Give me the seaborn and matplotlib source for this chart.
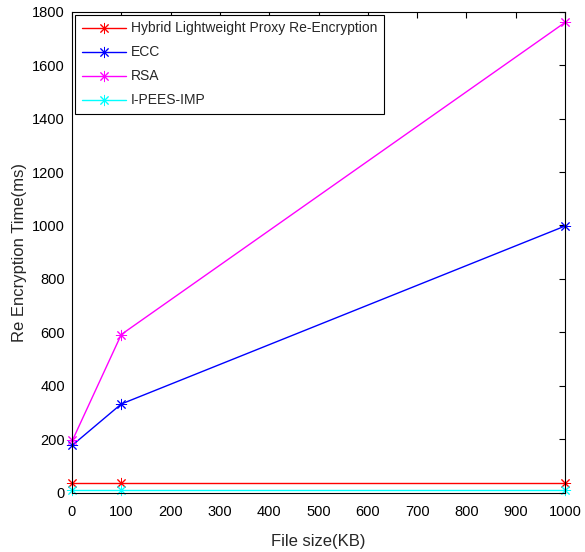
import matplotlib
matplotlib.use("Agg")
import matplotlib.pyplot as plt
import seaborn as sns
import pandas as pd

file_sizes = [1, 100, 1000]
hybrid = [35, 35, 35]
ecc = [178, 332, 998]
rsa = [196, 592, 1760]
ipees = [10, 10, 10]

series_names = ["Hybrid Lightweight Proxy Re-Encryption", "ECC", "RSA", "I-PEES-IMP"]
series_values = [hybrid, ecc, rsa, ipees]
colors = ["#ff0000", "#0000ff", "#ff00ff", "#00ffff"]

x_ticks = list(range(0, 1001, 100))
y_ticks = list(range(0, 1801, 200))

rows = []
for name, vals in zip(series_names, series_values):
    for x, v in zip(file_sizes, vals):
        rows.append({"File size(KB)": x, "time": v, "Method": name})
df = pd.DataFrame(rows)

sns.set_style("white")
plt.rcParams["font.family"] = ["Liberation Sans", "DejaVu Sans"]

fig = plt.figure(figsize=(5.85, 5.52), dpi=100)
ax = fig.add_axes([0.123, 0.1074, 0.843, 0.8714])

sns.lineplot(data=df, x="File size(KB)", y="time", hue="Method",
             palette=colors, hue_order=series_names, marker=(8, 2, 0),
             markersize=8, markeredgewidth=0.7, linewidth=1.0, ax=ax,
             legend=True)

for line in ax.lines:
    line.set_markeredgecolor(line.get_color())
    line.set_markerfacecolor(line.get_color())
    line.set_clip_on(False)

ax.set_xlim(0, 1000)
ax.set_ylim(0, 1800)
ax.set_xticks(x_ticks)
ax.set_yticks(y_ticks)
ax.tick_params(direction="in", length=4, width=0.8, top=True, right=True,
               labelsize=10.5, colors="black")
ax.tick_params(axis="x", pad=9)
ax.tick_params(axis="y", pad=5)
for s in ax.spines.values():
    s.set_visible(True)
    s.set_color("black")
    s.set_linewidth(0.8)
ax.set_xlabel("File size(KB)", fontsize=12, labelpad=11)
ax.set_ylabel("Re Encryption Time(ms)", fontsize=12)

handles, labels = ax.get_legend_handles_labels()
for h in handles:
    h.set_markeredgecolor(h.get_color())
    h.set_markerfacecolor(h.get_color())
leg = ax.legend(handles, labels, loc="upper left", fontsize=10, frameon=True,
                fancybox=False, edgecolor="black", framealpha=1,
                handlelength=3.2, labelspacing=0.72, borderaxespad=0.25,
                handletextpad=0.35, borderpad=0.45)
leg.get_frame().set_linewidth(0.8)

fig.savefig("out.png", dpi=100)
